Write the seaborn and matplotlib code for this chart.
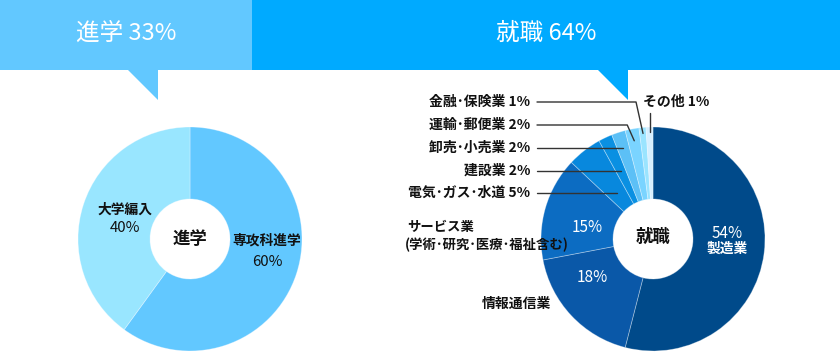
import numpy as np
import matplotlib
matplotlib.use("Agg")
import matplotlib.pyplot as plt
from matplotlib.patches import Rectangle, Polygon
import seaborn as sns

# ---------------- data ----------------
header_labels = ["進学", "就職"]
header_shares = [33, 64]

shingaku_cats = ["専攻科進学", "大学編入"]
shingaku_vals = [60, 40]
shingaku_colors = ["#62C8FF", "#99E6FF"]

shushoku_cats = ["製造業", "情報通信業", "サービス業\n(学術・研究・医療・福祉含む)",
                 "電気・ガス・水道", "建設業", "卸売・小売業", "運輸・郵便業",
                 "金融・保険業", "その他"]
shushoku_vals = [54, 18, 15, 5, 2, 2, 2, 1, 1]
shushoku_colors = ["#004A8A", "#0A58A8", "#0C6CC2", "#0888DD", "#0A90E2",
                   "#5CC0F6", "#7AD4FF", "#9AE4FF", "#D6EFFF"]

# ---------------- style ----------------
sns.set_theme(style="white")
plt.rcParams["font.family"] = ["Noto Sans CJK JP", "DejaVu Sans"]

W, H = 840, 355
fig = plt.figure(figsize=(W / 100, H / 100), dpi=100)
ax = fig.add_axes([0, 0, 1, 1])


def Y(py):
    return H - py


def narrow(s):
    # render the middle dot with its half-width form, as in the reference typesetting
    return s.replace("・", "\uFF65")


TXT = "#111111"

# ---------------- header bars ----------------
split = 252
ax.add_patch(Rectangle((0, Y(70)), split, 70, facecolor="#62C8FF", edgecolor="none"))
ax.add_patch(Rectangle((split, Y(70)), W - split, 70, facecolor="#00AAFF", edgecolor="none"))
ax.add_patch(Polygon([(128, Y(70)), (158, Y(70)), (158, Y(100))], closed=True,
                     facecolor="#62C8FF", edgecolor="none"))
ax.add_patch(Polygon([(598, Y(70)), (628, Y(70)), (628, Y(100))], closed=True,
                     facecolor="#00AAFF", edgecolor="none"))
ax.text(126, Y(33), f"{header_labels[0]} {header_shares[0]}%", color="white",
        fontsize=17, ha="center", va="center")
ax.text(546, Y(33), f"{header_labels[1]} {header_shares[1]}%", color="white",
        fontsize=17, ha="center", va="center")

# ---------------- donuts ----------------
R = 112
r_in = 40
c1 = (190, Y(239))
c2 = (653, Y(239))

wedge_kw = dict(width=R - r_in, edgecolor=(1, 1, 1, 0.35), linewidth=0.6)
ax.pie(shingaku_vals, colors=shingaku_colors, startangle=90, counterclock=False,
       radius=R, center=c1, wedgeprops=wedge_kw, frame=True)
w2, _ = ax.pie(shushoku_vals, colors=shushoku_colors, startangle=90, counterclock=False,
               radius=R, center=c2, wedgeprops=wedge_kw, frame=True)

ax.text(c1[0], c1[1], header_labels[0], fontsize=12.5, fontweight="bold",
        ha="center", va="center", color=TXT)
ax.text(c2[0], c2[1] + 2, header_labels[1], fontsize=12.5, fontweight="bold",
        ha="center", va="center", color=TXT)

# left donut labels
ax.text(125, Y(210), shingaku_cats[1], fontsize=9.9, fontweight="bold",
        ha="center", va="center", color=TXT)
ax.text(125, Y(228), f"{shingaku_vals[1]}%", fontsize=10.8,
        ha="center", va="center", color=TXT)
ax.text(267, Y(241), shingaku_cats[0], fontsize=9.9, fontweight="bold",
        ha="center", va="center", color=TXT)
ax.text(267, Y(262), f"{shingaku_vals[0]}%", fontsize=10.8,
        ha="center", va="center", color=TXT)

# right donut inside labels
ax.text(727, Y(233), f"{shushoku_vals[0]}%", fontsize=11, color="white",
        ha="center", va="center")
ax.text(727, Y(249), shushoku_cats[0], fontsize=9.9, fontweight="bold", color="white",
        ha="center", va="center")
ax.text(592, Y(277), f"{shushoku_vals[1]}%", fontsize=11, color="white",
        ha="center", va="center")
ax.text(587, Y(227), f"{shushoku_vals[2]}%", fontsize=11, color="white",
        ha="center", va="center")

# outside category labels
ax.text(482, Y(304), shushoku_cats[1], fontsize=10, fontweight="bold",
        ha="left", va="center", color=TXT)
svc_lines = shushoku_cats[2].split("\n")
ax.text(407, Y(227), svc_lines[0], fontsize=9.6, fontweight="bold",
        ha="left", va="center", color=TXT)
ax.text(405, Y(245), narrow(svc_lines[1]), fontsize=9.6, fontweight="bold",
        ha="left", va="center", color=TXT)


def mid_angle(w):
    return np.deg2rad((w.theta1 + w.theta2) / 2)


line_kw = dict(color="#333333", linewidth=1.0)
label_x = 530
line_x0 = 537
# (index, label y in px, style, radius)
small = [(3, 193, "h", None), (4, 171, "h", None), (5, 148, "h", None),
         (6, 125, "k", 100), (7, 102, "k", 106)]
for idx, py, style, rr in small:
    w = w2[idx]
    a = mid_angle(w)
    y = Y(py)
    ax.text(label_x, y, narrow(f"{shushoku_cats[idx]} {shushoku_vals[idx]}%"),
            fontsize=10, fontweight="bold", ha="right", va="center", color=TXT)
    if style == "h":
        dy = y - c2[1]
        x_end = c2[0] + dy / np.tan(a)
        ax.plot([line_x0, x_end], [y, y], **line_kw)
    else:
        xe = c2[0] + rr * np.cos(a)
        ye = c2[1] + rr * np.sin(a)
        xk = xe - 7
        ax.plot([line_x0, xk, xe], [y, y, ye], **line_kw)

# その他
w = w2[8]
a = mid_angle(w)
xe = c2[0] + 107 * np.cos(a)
ye = c2[1] + 107 * np.sin(a)
ax.plot([xe, xe], [Y(113), ye], **line_kw)
ax.text(643, Y(102), f"{shushoku_cats[8]} {shushoku_vals[8]}%", fontsize=10,
        fontweight="bold", ha="left", va="center", color=TXT)

ax.set_xlim(0, W)
ax.set_ylim(0, H)
ax.set_aspect("equal", adjustable="box")
ax.axis("off")
fig.savefig("out.png", dpi=100, facecolor="white")
